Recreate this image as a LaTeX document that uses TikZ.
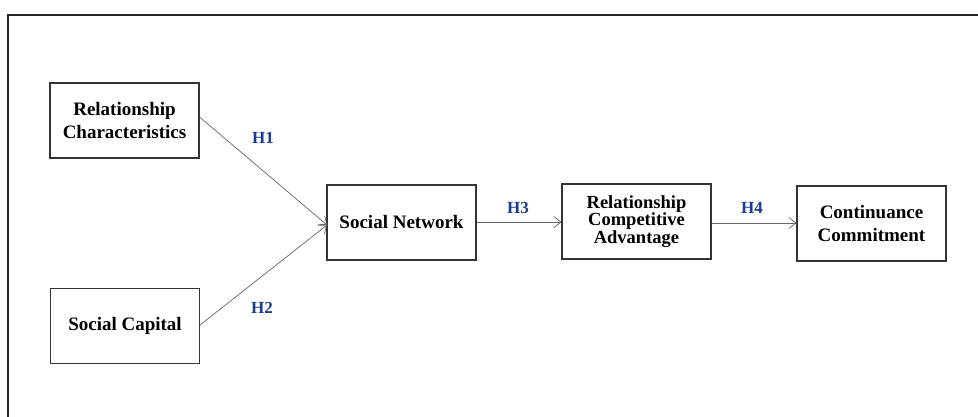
\documentclass[tikz,border=0pt]{standalone}
\usepackage{fontspec}
\setmainfont{Liberation Serif}
\usetikzlibrary{arrows.meta}
\definecolor{hblue}{RGB}{25,60,140}
\tikzset{
  box/.style={draw=black!80, line width=1.1pt, minimum width=149pt, minimum height=75pt, inner sep=0pt, align=center, font=\fontsize{19}{23}\selectfont\bfseries},
  conn/.style={draw=black!60, line width=0.7pt, -{Straight Barb[length=7pt,width=11pt]}},
  hlab/.style={text=hblue, font=\fontsize{17}{17}\selectfont\bfseries, inner sep=0pt},
  frame/.style={draw=black!85, line width=1.2pt}
}
\begin{document}
\begin{tikzpicture}[x=1pt,y=-1pt]
\useasboundingbox (0,0) rectangle (978,417);
\coordinate (ftl) at (8,15);
\coordinate (ftr) at (978,15);
\coordinate (fbl) at (8,417);
\draw[frame] (ftr) -- (ftl) -- (fbl);
\node[box] (rc) at (124.5,120.5) {Relationship\\Characteristics};
\node[box] (sc) at (125,326) {Social Capital};
\node[box] (sn) at (401.5,222.5) {Social Network};
\node[box, font=\fontsize{18.5}{17.5}\selectfont\bfseries] (rca) at (636.5,221.5) {Relationship\\Competitive\\Advantage};
\node[box] (cc) at (871.5,223.5) {Continuance\\Commitment};
\coordinate (snin) at (327,225);
\draw[conn] (rc.east |- 0,117) -- (snin);
\draw[conn] (sc.east |- 0,325) -- (snin);
\draw[conn] (sn.east |- 0,222) -- (rca.west |- 0,222);
\draw[conn] (rca.east |- 0,223) -- (cc.west |- 0,223);
\node[hlab] (h1) at (263,138) {H1};
\node[hlab] (h2) at (262,308) {H2};
\node[hlab] (h3) at (518,208) {H3};
\node[hlab] (h4) at (752,208) {H4};
\end{tikzpicture}
\end{document}
